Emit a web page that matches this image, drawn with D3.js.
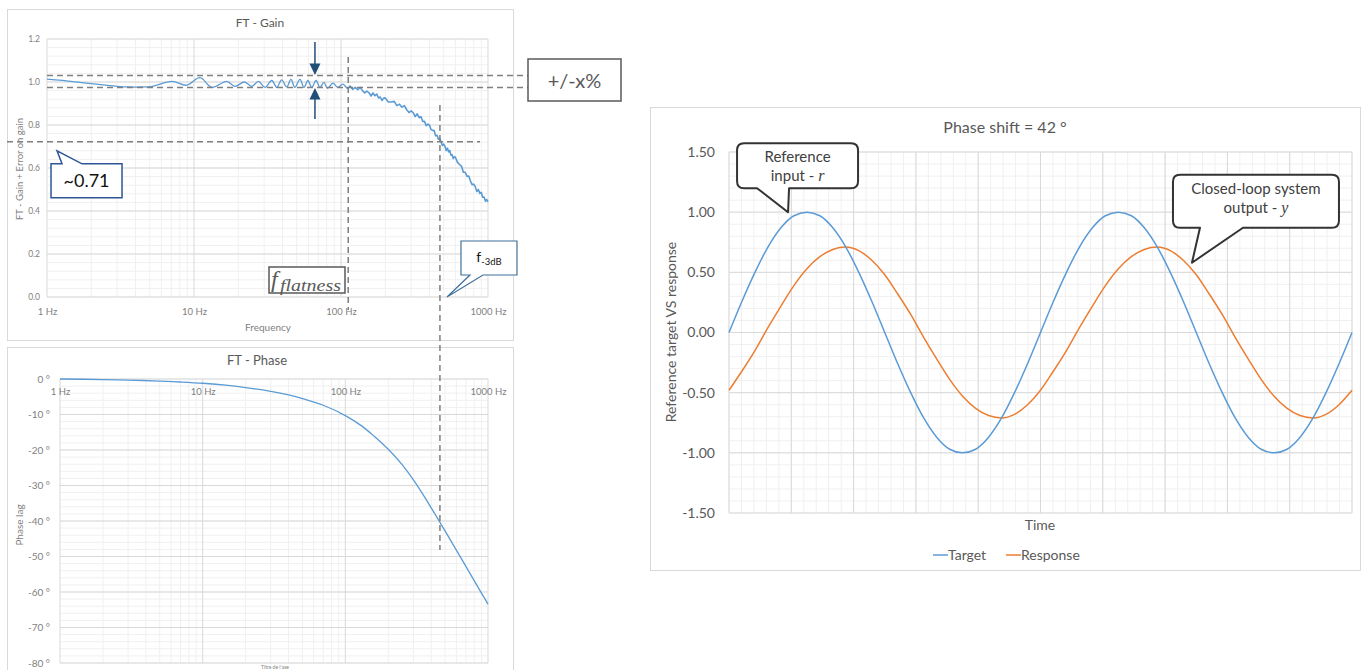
<!DOCTYPE html>
<html>
<head>
<meta charset="utf-8">
<script src="https://cdn.jsdelivr.net/npm/d3@7"></script>
<style>
body { margin: 0; background: #fff; }
svg { display: block; font-family: Lato, "Open Sans", sans-serif; }
</style>
</head>
<body>
<svg id="chart" width="1365" height="670"></svg>
<script>
// gain measurement, flat part with ripple (frequency in Hz, gain)
const rippleFreq = [1, 1.5, 2, 2.5, 3, 3.6, 4.4, 5.2, 7.1, 8.9, 11, 13.2, 16.7, 19, 22, 24.8, 27.4, 30.4, 33.8, 36.6, 39.5, 42.7, 45.7, 48.5, 52.6, 56, 59.6, 63.3, 67.6, 72, 76.5, 81, 88, 95, 103, 111, 115];
const rippleGain = [1.013, 1.002, 0.992, 0.985, 0.98, 0.977, 0.977, 0.98, 1.003, 0.985, 1.02, 0.975, 1.003, 0.98, 1.0, 0.98, 1.003, 0.975, 1.007, 0.975, 1.01, 0.977, 1.012, 0.975, 1.012, 0.975, 1.007, 0.975, 1.007, 0.975, 0.998, 0.97, 0.995, 0.975, 0.99, 0.97, 0.983];

// gain measurement, noisy roll-off
const rollFreq = [115, 120, 125, 130, 135, 140, 145, 150, 155, 160, 165, 170, 175, 180, 185, 190, 195, 200,
    210, 220, 230, 240, 250, 260, 270, 280, 290, 300, 310, 320, 330, 340, 350, 360, 370, 380, 390, 400,
    410, 420, 430, 440, 450, 460, 470, 480, 490, 500, 510, 520, 530, 540, 550, 560, 570, 580, 590, 600,
    620, 640, 660, 680, 700, 720, 740, 760, 780, 800, 820, 840, 860, 880, 900, 920, 940, 960, 980, 1000];
const rollGain = [0.983, 0.966, 0.975, 0.964, 0.975, 0.96, 0.949, 0.958, 0.95, 0.935, 0.949, 0.936, 0.944, 0.926, 0.93, 0.914, 0.925, 0.926,
    0.907, 0.907, 0.91, 0.89, 0.897, 0.883, 0.89, 0.871, 0.858, 0.866, 0.857, 0.839, 0.852, 0.834, 0.839, 0.816, 0.817, 0.797, 0.804, 0.799,
    0.779, 0.775, 0.774, 0.75, 0.752, 0.734, 0.738, 0.719, 0.705, 0.711, 0.7, 0.681, 0.692, 0.675, 0.681, 0.66, 0.662, 0.644, 0.652, 0.65,
    0.626, 0.616, 0.609, 0.58, 0.58, 0.561, 0.563, 0.539, 0.522, 0.525, 0.512, 0.491, 0.5, 0.482, 0.487, 0.464, 0.465, 0.446, 0.453, 0.442];

// phase measurement (frequency in Hz, degrees)
const phaseFreq = [1, 2, 3, 5, 7, 10, 15, 20, 30, 40, 50, 70, 100, 130, 160, 200, 250, 300, 350, 400, 450, 500, 600, 700, 800, 900, 1000];
const phaseDeg = [0, -0.15, -0.3, -0.6, -0.85, -1.2, -1.8, -2.4, -3.5, -4.5, -5.5, -7.4, -10.3, -13.2, -16.2, -19.8, -24.1, -28.4, -32.5, -36.3, -39.7, -42.8, -48.2, -52.8, -56.8, -60.3, -63.4];

// time response, one sample every 15 degrees over two periods
const targetVals = [0, 0.26, 0.5, 0.71, 0.87, 0.97, 1, 0.97, 0.87, 0.71, 0.5, 0.26, 0, -0.26, -0.5, -0.71, -0.87, -0.97, -1, -0.97, -0.87, -0.71, -0.5, -0.26,
    0, 0.26, 0.5, 0.71, 0.87, 0.97, 1, 0.97, 0.87, 0.71, 0.5, 0.26, 0, -0.26, -0.5, -0.71, -0.87, -0.97, -1, -0.97, -0.87, -0.71, -0.5, -0.26, 0];
const responseVals = [-0.48, -0.32, -0.15, 0.04, 0.22, 0.39, 0.53, 0.63, 0.69, 0.71, 0.68, 0.6, 0.48, 0.32, 0.15, -0.04, -0.22, -0.39, -0.53, -0.63, -0.69, -0.71, -0.68, -0.6,
    -0.48, -0.32, -0.15, 0.04, 0.22, 0.39, 0.53, 0.63, 0.69, 0.71, 0.68, 0.6, 0.48, 0.32, 0.15, -0.04, -0.22, -0.39, -0.53, -0.63, -0.69, -0.71, -0.68, -0.6, -0.48];

const decades = [1, 10, 100, 1000];
const gainTicks = [0, 0.2, 0.4, 0.6, 0.8, 1.0, 1.2];
const phaseTicks = [0, -10, -20, -30, -40, -50, -60, -70, -80];
const respTicks = [1.5, 1, 0.5, 0, -0.5, -1, -1.5];

// annotation levels
const tolHigh = 1.03, tolLow = 0.975, cutLevel = 0.722;
const fFlat = 112, f3dB = 471, fArrow = 66.5;

const blue = "#5b9bd5", orange = "#ed7d31";

const svg = d3.select("#chart");

function grid(g, x, y, xs, ys, color) {
    const [x0, x1] = x.range(), [y0, y1] = y.range();
    g.append("g").selectAll("line").data(xs).join("line")
        .attr("x1", d => x(d)).attr("x2", d => x(d))
        .attr("y1", y0).attr("y2", y1)
        .attr("stroke", color).attr("stroke-width", 1);
    g.append("g").selectAll("line").data(ys).join("line")
        .attr("x1", x0).attr("x2", x1)
        .attr("y1", d => y(d)).attr("y2", d => y(d))
        .attr("stroke", color).attr("stroke-width", 1);
}

function cleanAxis(sel, size, color) {
    sel.select(".domain").remove();
    sel.selectAll("text").attr("font-size", size).attr("fill", color).attr("font-family", "Lato, sans-serif");
}

function dashed(x1, y1, x2, y2) {
    svg.append("line")
        .attr("x1", x1).attr("y1", y1).attr("x2", x2).attr("y2", y2)
        .attr("stroke", "#7f7f7f").attr("stroke-width", 1.5)
        .attr("stroke-dasharray", "6,4");
}

// ---------------- FT - Gain ----------------
svg.append("rect").attr("x", 7.5).attr("y", 9.5).attr("width", 506).attr("height", 331)
    .attr("fill", "#fff").attr("stroke", "#d9d9d9");

const gx = d3.scaleLog().domain([1, 1000]).range([47, 488]);
const gy = d3.scaleLinear().domain([0, 1.2]).range([297, 39]);

const gainG = svg.append("g");
grid(gainG, gx, gy, gx.ticks().filter(d => !decades.includes(d)), d3.range(0, 1.2001, 0.04), "#f0f0f0");
grid(gainG, gx, gy, decades, gainTicks, "#d9d9d9");

gainG.append("g").attr("transform", "translate(47,0)")
    .call(d3.axisLeft(gy).tickValues(gainTicks).tickFormat(d3.format(".1f")).tickSize(0).tickPadding(7))
    .call(cleanAxis, 8.5, "#7f7f7f");
gainG.append("g").attr("transform", "translate(0,297)")
    .call(d3.axisBottom(gx).tickValues(decades).tickFormat(d => d + " Hz").tickSize(0).tickPadding(11))
    .call(cleanAxis, 9.5, "#7f7f7f");

svg.append("text").attr("x", 260).attr("y", 27).attr("text-anchor", "middle")
    .attr("font-size", 12).attr("fill", "#595959").text("FT - Gain");
svg.append("text").attr("x", 268).attr("y", 331).attr("text-anchor", "middle")
    .attr("font-size", 10).attr("fill", "#7f7f7f").text("Frequency");
svg.append("text").attr("transform", "translate(23,169) rotate(-90)").attr("text-anchor", "middle")
    .attr("font-size", 9.5).attr("fill", "#7f7f7f").text("FT - Gain + Error on gain");

const gainLine = d3.line().x(d => gx(d[0])).y(d => gy(d[1]));
gainG.append("path").datum(rippleFreq.map((f, i) => [f, rippleGain[i]]))
    .attr("fill", "none").attr("stroke", blue).attr("stroke-width", 1.3)
    .attr("d", gainLine.curve(d3.curveCatmullRom));
gainG.append("path").datum(rollFreq.map((f, i) => [f, rollGain[i]]))
    .attr("fill", "none").attr("stroke", blue).attr("stroke-width", 1.6).attr("stroke-linejoin", "round")
    .attr("d", gainLine.curve(d3.curveLinear));

// ---------------- FT - Phase ----------------
svg.append("rect").attr("x", 7.5).attr("y", 347.5).attr("width", 506).attr("height", 330)
    .attr("fill", "#fff").attr("stroke", "#d9d9d9");

const px = d3.scaleLog().domain([1, 1000]).range([60, 488]);
const py = d3.scaleLinear().domain([-80, 0]).range([663, 379]);

const phaseG = svg.append("g");
grid(phaseG, px, py, px.ticks().filter(d => !decades.includes(d)), d3.range(-80, 0.001, 2), "#f0f0f0");
grid(phaseG, px, py, decades, phaseTicks, "#d9d9d9");

phaseG.append("g").attr("transform", "translate(60,0)")
    .call(d3.axisLeft(py).tickValues(phaseTicks).tickFormat(d => (d === 0 ? "0" : "-" + Math.abs(d)) + " °").tickSize(0).tickPadding(10))
    .call(cleanAxis, 10, "#7f7f7f");
phaseG.append("g").attr("transform", "translate(0,379)")
    .call(d3.axisBottom(px).tickValues(decades).tickFormat(d => d + " Hz").tickSize(0).tickPadding(9))
    .call(cleanAxis, 9.5, "#7f7f7f");

svg.append("text").attr("x", 257).attr("y", 365).attr("text-anchor", "middle")
    .attr("font-size", 13).attr("fill", "#595959").text("FT - Phase");
svg.append("text").attr("transform", "translate(23,525) rotate(-90)").attr("text-anchor", "middle")
    .attr("font-size", 10).attr("fill", "#7f7f7f").text("Phase lag");
svg.append("text").attr("x", 275).attr("y", 669).attr("text-anchor", "middle")
    .attr("font-size", 5).attr("fill", "#7f7f7f").text("Titre de l'axe");

const phasePts = phaseFreq.map((f, i) => [f, phaseDeg[i]]);
phaseG.append("path").datum(phasePts)
    .attr("fill", "none").attr("stroke", blue).attr("stroke-width", 1.3)
    .attr("d", d3.line().x(d => px(d[0])).y(d => py(d[1])).curve(d3.curveCatmullRom));

// ---------------- gain annotations ----------------
dashed(gx(1), gy(tolHigh), 528, gy(tolHigh));
dashed(gx(1), gy(tolLow), 528, gy(tolLow));
dashed(7, gy(cutLevel), 480, gy(cutLevel));
dashed(gx(fFlat), 57, gx(fFlat), 310);
dashed(gx(f3dB), 105, gx(f3dB), 550);

// flatness arrows
const ax = gx(fArrow), arrowCol = "#1f4e79";
svg.append("line").attr("x1", ax).attr("x2", ax).attr("y1", 42).attr("y2", gy(tolHigh) - 10)
    .attr("stroke", arrowCol).attr("stroke-width", 1.5);
svg.append("path").attr("fill", arrowCol)
    .attr("d", `M${ax - 5.5},${gy(tolHigh) - 12} L${ax + 5.5},${gy(tolHigh) - 12} L${ax},${gy(tolHigh) - 0.5} Z`);
svg.append("line").attr("x1", ax).attr("x2", ax).attr("y1", 119).attr("y2", gy(tolLow) + 10)
    .attr("stroke", arrowCol).attr("stroke-width", 1.5);
svg.append("path").attr("fill", arrowCol)
    .attr("d", `M${ax - 5.5},${gy(tolLow) + 12} L${ax + 5.5},${gy(tolLow) + 12} L${ax},${gy(tolLow) + 0.5} Z`);

// +/-x% box
svg.append("rect").attr("x", 528).attr("y", 59).attr("width", 93).attr("height", 42)
    .attr("fill", "#fff").attr("stroke", "#595959").attr("stroke-width", 1.5);
svg.append("text").attr("x", 574.5).attr("y", 87.5).attr("text-anchor", "middle")
    .attr("font-size", 20).attr("fill", "#595959").text("+/-x%");

// ~0.71 callout (tail on top edge)
{
    const tx = gx(1.17), ty = gy(0.68);
    const l = tx - 6, r = tx + 65, t = ty + 13, b = ty + 47;
    svg.append("path").attr("fill", "#fff").attr("stroke", "#2f5597").attr("stroke-width", 1.5)
        .attr("d", `M${l},${t} H${tx + 5} L${tx},${ty} L${tx + 25},${t} H${r} V${b} H${l} Z`);
    svg.append("text").attr("x", (l + r) / 2).attr("y", t + 23.5).attr("text-anchor", "middle")
        .attr("font-size", 18).attr("fill", "#111").text("~0.71");
}

// f_flatness box
svg.append("rect").attr("x", 269).attr("y", 267).attr("width", 76).attr("height", 26)
    .attr("fill", "#fff").attr("stroke", "#595959").attr("stroke-width", 1.5);
svg.append("text").attr("x", 271).attr("y", 287).attr("font-family", "'Liberation Serif', serif")
    .attr("font-style", "italic").attr("font-size", 24).attr("fill", "#595959").text("f");
svg.append("text").attr("x", 280).attr("y", 290.5).attr("font-family", "'Liberation Serif', serif")
    .attr("font-style", "italic").attr("font-size", 17).attr("fill", "#595959")
    .attr("textLength", 61).attr("lengthAdjust", "spacingAndGlyphs").text("flatness");

// f-3dB callout (tail on bottom edge)
{
    const tx = gx(526), ty = gy(0);
    const l = tx + 14, r = tx + 70, t = ty - 56, b = ty - 22;
    svg.append("path").attr("fill", "#fff").attr("stroke", "#41719c").attr("stroke-width", 1.2)
        .attr("d", `M${l},${t} H${r} V${b} H${tx + 36} L${tx},${ty} L${tx + 23},${b} H${l} Z`);
    const lab = svg.append("text").attr("x", (l + r) / 2).attr("y", t + 21).attr("text-anchor", "middle")
        .attr("font-size", 14).attr("fill", "#111");
    lab.append("tspan").text("f");
    lab.append("tspan").attr("font-size", 9.5).attr("dy", 3).text("-3dB");
}

// ---------------- Phase shift chart ----------------
svg.append("rect").attr("x", 650.5).attr("y", 107.5).attr("width", 710).attr("height", 463)
    .attr("fill", "#fff").attr("stroke", "#d9d9d9");

const rx = d3.scaleLinear().domain([0, targetVals.length - 1]).range([729, 1352]);
const ry = d3.scaleLinear().domain([-1.5, 1.5]).range([513, 152]);

const respG = svg.append("g");
grid(respG, rx, ry, d3.range(0, 48.001, 0.96), d3.range(-1.5, 1.5001, 0.1), "#f0f0f0");
grid(respG, rx, ry, d3.range(0, 48.001, 4.8), respTicks, "#d9d9d9");

respG.append("g").attr("transform", "translate(729,0)")
    .call(d3.axisLeft(ry).tickValues(respTicks).tickFormat(d => d.toFixed(2)).tickSize(0).tickPadding(14))
    .call(cleanAxis, 14, "#595959");

svg.append("text").attr("x", 1005).attr("y", 133).attr("text-anchor", "middle")
    .attr("font-size", 16).attr("fill", "#595959").text("Phase shift = 42 °");
svg.append("text").attr("x", 1040).attr("y", 530).attr("text-anchor", "middle")
    .attr("font-size", 14).attr("fill", "#595959").text("Time");
svg.append("text").attr("transform", "translate(676,332) rotate(-90)").attr("text-anchor", "middle")
    .attr("font-size", 14).attr("fill", "#595959").text("Reference target VS response");

const sineLine = d3.line().x((d, i) => rx(i)).y(d => ry(d)).curve(d3.curveMonotoneX);
respG.append("path").datum(responseVals).attr("fill", "none").attr("stroke", orange)
    .attr("stroke-width", 1.5).attr("d", sineLine);
respG.append("path").datum(targetVals).attr("fill", "none").attr("stroke", blue)
    .attr("stroke-width", 1.5).attr("d", sineLine);

// legend
const legend = [["Target", blue, 933], ["Response", orange, 1006]];
legend.forEach(([name, col, x0]) => {
    svg.append("line").attr("x1", x0).attr("x2", x0 + 15).attr("y1", 555).attr("y2", 555)
        .attr("stroke", col).attr("stroke-width", 1.5);
    svg.append("text").attr("x", x0 + 15).attr("y", 560).attr("font-size", 14)
        .attr("fill", "#595959").text(name);
});

// speech bubbles
function bubble(tx, ty, l, r, t, b, b1, b2, lines) {
    const rr = 7;
    svg.append("path").attr("fill", "#fff").attr("stroke", "#333").attr("stroke-width", 2)
        .attr("stroke-linejoin", "round")
        .attr("d", `M${l + rr},${t} H${r - rr} Q${r},${t} ${r},${t + rr} V${b - rr} Q${r},${b} ${r - rr},${b}` +
            ` H${b2} L${tx},${ty} L${b1},${b} H${l + rr} Q${l},${b} ${l},${b - rr} V${t + rr} Q${l},${t} ${l + rr},${t} Z`);
    lines.forEach(([txt, math], i) => {
        const el = svg.append("text").attr("x", (l + r) / 2).attr("y", t + 19 + i * 19)
            .attr("text-anchor", "middle").attr("font-size", 15).attr("fill", "#404040");
        el.append("tspan").text(txt);
        if (math) el.append("tspan").attr("font-family", "'Liberation Serif', serif")
            .attr("font-style", "italic").attr("font-size", 16).text(math);
    });
}

{
    const tx = rx(4.55), ty = ry(1.0);
    bubble(tx, ty, tx - 51, tx + 70, ty - 69, ty - 24, tx - 31, tx + 1, [["Reference"], ["input - ", "r"]]);
}
{
    const tx = rx(35.67), ty = ry(0.58);
    bubble(tx, ty, tx - 19, tx + 147, ty - 88, ty - 35, tx + 8, tx + 51, [["Closed-loop system"], ["output - ", "y"]]);
}
</script>
</body>
</html>
